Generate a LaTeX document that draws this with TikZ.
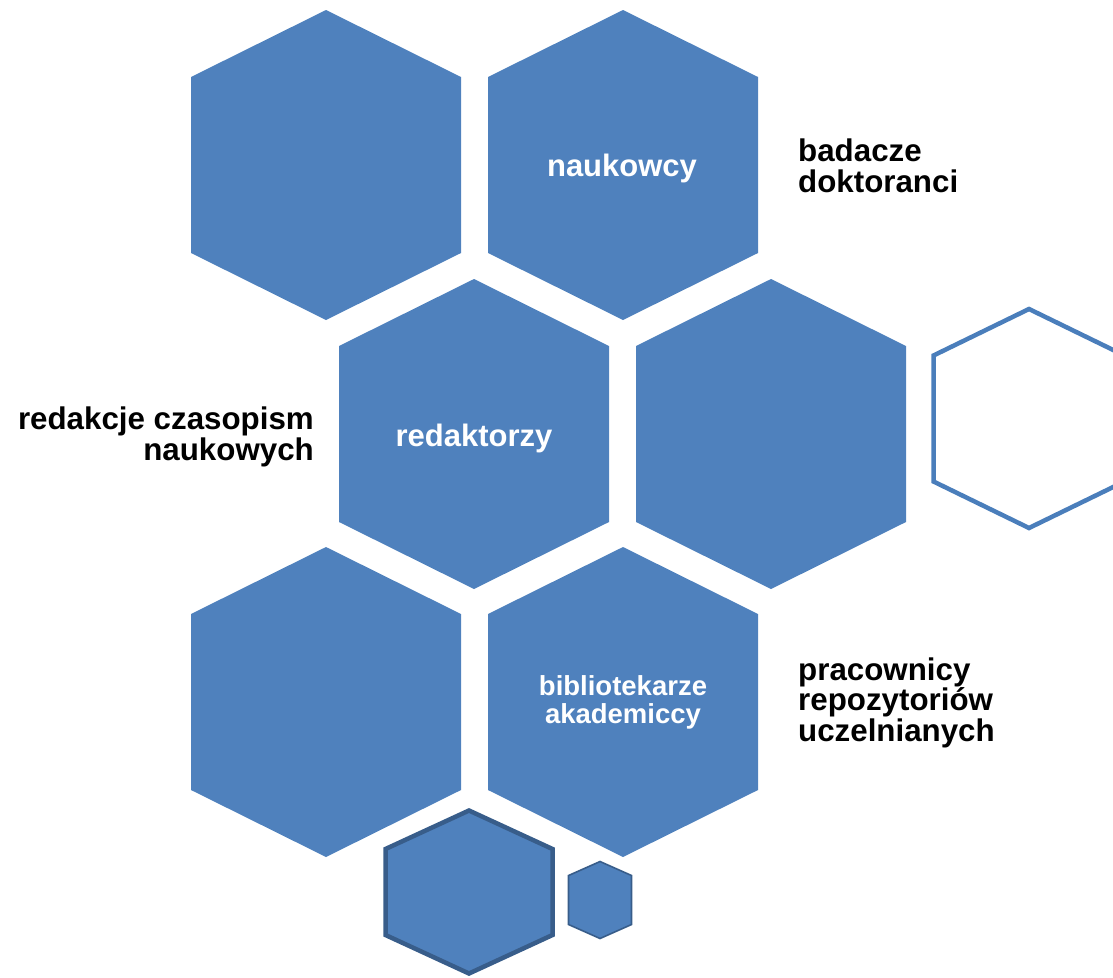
\documentclass[tikz,border=0pt]{standalone}
\usepackage{fontspec}
\setmainfont{Liberation Sans}
\definecolor{hexblue}{HTML}{4F81BD}
\definecolor{hexline}{HTML}{4A7EBB}
\definecolor{hexdark}{HTML}{385D8A}
\newcommand{\hexshape}[6]{%
  \path[#1] (#2,#3-#5) -- (#2+#4,#3-#6) -- (#2+#4,#3+#6) -- (#2,#3+#5)
    -- (#2-#4,#3+#6) -- (#2-#4,#3-#6) -- cycle;}
\tikzset{
  bighex/.style={fill=hexblue},
  openhex/.style={draw=hexline, line width=4.5pt, line join=miter},
  darkhex/.style={fill=hexblue, draw=hexdark, line width=4.5pt, line join=miter},
  tinyhex/.style={fill=hexblue, draw=hexdark, line width=1.6pt, line join=miter},
  intext/.style={text=white, font=\fontsize{31}{31}\selectfont\bfseries, inner sep=0pt},
  smalltext/.style={text=white, font=\fontsize{27.5}{28}\selectfont\bfseries, inner sep=0pt, align=center},
  outtext/.style={text=black, font=\fontsize{31.3}{30.5}\selectfont\bfseries, inner sep=0pt}
}
\begin{document}
\begin{tikzpicture}[x=1pt,y=-1pt]
\useasboundingbox (0,0) rectangle (1113,977);
\clip (0,0) rectangle (1113,977);
% large hexagons
\hexshape{bighex}{326}{165}{135}{155}{88}
\hexshape{bighex}{623}{165}{135}{155}{88}
\hexshape{bighex}{474}{434}{135}{155}{88}
\hexshape{bighex}{771}{434}{135}{155}{88}
\hexshape{bighex}{326}{702}{135}{155}{88}
\hexshape{bighex}{623}{702}{135}{155}{88}
% outline hexagon
\hexshape{openhex}{1029}{418.5}{95.5}{109.5}{63}
% small hexagons
\hexshape{darkhex}{469}{892}{83.5}{81.5}{43}
\hexshape{tinyhex}{600}{900}{31.5}{38.5}{24.5}
% labels inside
\node[intext, anchor=base] (nauk) at (622,176.5) {naukowcy};
\node[intext, anchor=base] (redk) at (474,446) {redaktorzy};
\node[smalltext, anchor=base] (bibl) at (623,723) {bibliotekarze\\akademiccy};
% labels outside
\node[outtext, align=left, anchor=base west] (bad) at (798,192) {badacze\\doktoranci};
\node[outtext, align=right, anchor=base east] (red) at (314,460) {redakcje czasopism\\naukowych};
\node[outtext, align=left, anchor=base west] (prac) at (798,741) {pracownicy\\repozytoriów\\uczelnianych};
\end{tikzpicture}
\end{document}
